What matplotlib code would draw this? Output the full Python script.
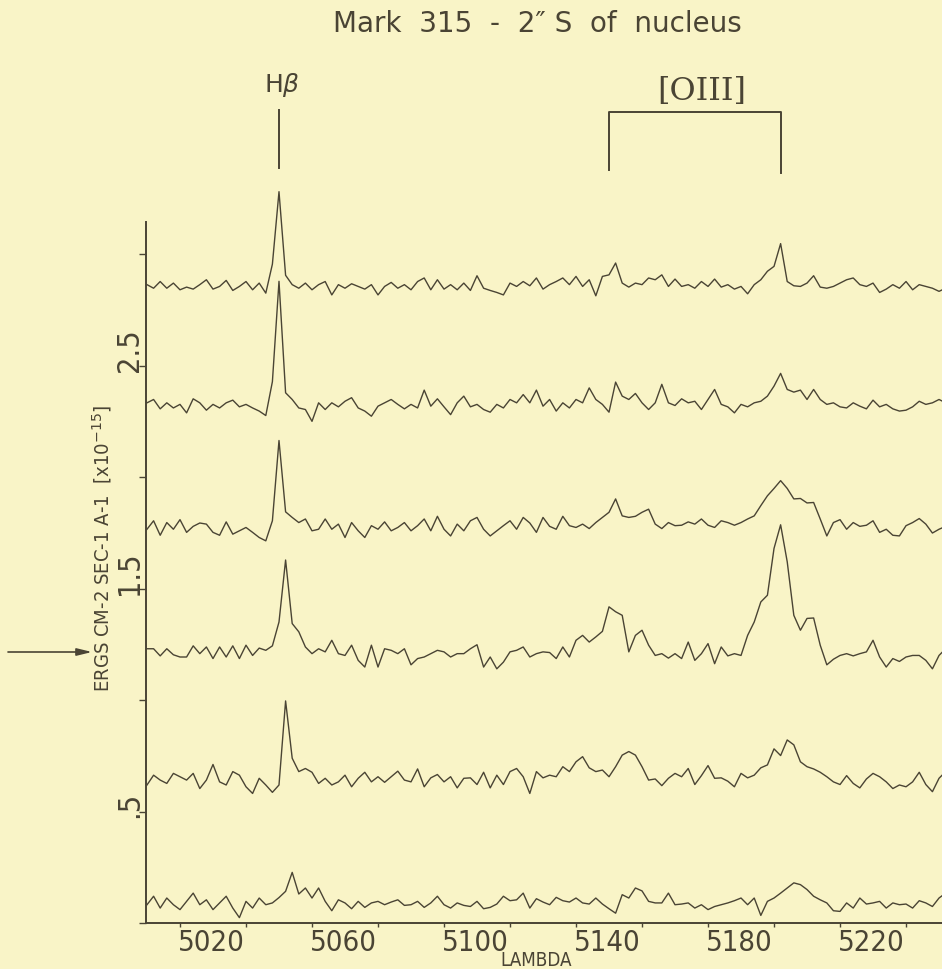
import matplotlib
matplotlib.use('Agg')
import matplotlib.pyplot as plt
import matplotlib.transforms as mtransforms
import numpy as np

# wavelength grid of the traced spectra (Angstrom)
lam = np.arange(5010, 5253, 2)

# baseline of each stacked spectrum, top to bottom (1e-15 erg cm-2 s-1 A-1)
offsets = [2.855, 2.318, 1.774, 1.208, 0.641, 0.082]

# flux above the baseline, in units of 1e-18
spec1 = [8, -8, 22, -8, 15, -15, -3, -12, 8, 30,
         -12, 0, 27, -18, 0, 22, -15, 15, -30, 100,
         425, 50, 8, -8, 15, -15, 8, 22, -38, 8,
         -8, 12, 0, -12, 8, -38, 0, 18, -8, 8,
         -15, 22, 38, -15, 30, -12, 8, -15, 15, -18,
         48, -8, -18, -27, -38, 15, 0, 22, 3, 38,
         -12, 8, 22, 38, 8, 45, 0, 30, -42, 45,
         52, 105, 15, -3, 15, 8, 38, 30, 52, 0,
         33, 0, 8, -8, 22, 0, 33, -3, 8, -12,
         0, -33, 8, 30, 68, 90, 192, 22, 3, 0,
         15, 48, -3, -8, 0, 15, 30, 38, 8, 0,
         15, -27, -12, 8, -8, 22, -15, 8, 0, -8,
         -22, -8]
spec2 = [15, 30, -12, 15, -8, 8, -30, 33, 15, -18,
         8, -8, 15, 27, -3, 8, -8, -22, -42, 110,
         560, 60, 30, -8, -15, -68, 15, -15, 15, -3,
         22, 38, -8, -22, -45, 0, 15, 30, 8, -12,
         8, -8, 72, 0, 33, -3, -38, 15, 45, -3,
         8, -15, -27, 8, -8, 30, 15, 52, 15, 72,
         0, 30, -22, 15, -8, 30, 15, 82, 30, 8,
         -27, 108, 45, 30, 57, 15, -15, 15, 98, 15,
         3, 33, 15, 22, -15, 30, 75, 8, -3, -30,
         8, -3, 15, 22, 45, 90, 147, 75, 63, 72,
         30, 75, 30, 8, 15, -3, -8, 15, 0, -12,
         27, -3, 8, -12, -22, -18, -3, 22, 8, 15,
         30, 15]
spec3 = [-8, 30, -35, 22, -8, 35, -22, 5, 20, 15,
         -22, -35, 25, -30, -15, 0, -22, -45, -60, 30,
         390, 70, 45, 22, 38, -15, -8, 38, -8, 15,
         -45, 22, -15, -45, 8, -8, 25, -15, 0, 22,
         -15, 8, 38, -15, 50, -8, -38, 15, -15, 30,
         45, -8, -38, -15, 8, 30, -8, 45, 20, -22,
         45, 5, -8, 50, 8, 0, 15, -5, 22, 45,
         68, 128, 52, 45, 50, 68, 82, 15, -5, 22,
         8, 10, 25, 15, 38, 10, 0, 30, 22, 10,
         22, 38, 52, 98, 142, 175, 210, 175, 128, 130,
         110, 112, 38, -38, 22, 35, -8, 22, 5, 10,
         30, -22, -8, -35, -38, 8, 22, 40, 15, -25,
         -8, 5]
spec4 = [22, 22, -10, 22, -5, -15, -15, 35, 0, 30,
         -22, 30, -15, 35, -22, 38, -8, 25, 15, 35,
         142, 420, 135, 98, 30, 0, 22, 8, 60, 0,
         -8, 38, -30, -60, 38, -60, 22, 15, 0, 22,
         -50, -22, -15, 0, 15, 8, -15, 0, 0, 22,
         40, -60, -15, -68, -38, 8, 15, 30, -15, 0,
         8, 5, -22, 30, -15, 60, 82, 52, 75, 100,
         210, 188, 172, 8, 82, 105, 38, -8, 0, -20,
         0, -22, 52, -30, 0, 45, -45, 30, -10, 0,
         -8, 82, 142, 232, 262, 472, 578, 412, 172, 105,
         158, 160, 38, -50, -25, -8, 0, -10, 0, 8,
         60, -15, -60, -22, -35, -15, -8, -8, -30, -68,
         -8, 22]
spec5 = [-22, 22, 0, -15, 30, 15, 0, 30, -38, 0,
         70, -8, -22, 38, 22, -30, -60, 8, -22, -55,
         -22, 355, 98, 38, 52, 35, -15, 8, -22, -8,
         22, -30, 8, 35, -8, 15, -10, 15, 40, 0,
         -8, 50, -30, 10, 25, -8, 15, -35, 8, 10,
         -20, 35, -35, 22, -20, 38, 52, 15, -60, 38,
         10, 22, 15, 60, 38, 82, 105, 55, 38, 45,
         15, 60, 112, 128, 112, 60, 0, 5, -25, 8,
         30, 15, 52, -20, 20, 65, 8, 10, -5, -30,
         30, 10, 22, 55, 68, 140, 110, 180, 158, 82,
         60, 50, 35, 15, -8, -20, 20, -15, -35, 5,
         30, 15, -8, -38, -22, -30, -8, 35, -20, -52,
         8, 38]
spec6 = [0, 38, -15, 30, 0, -22, 15, 52, 0, 22,
         -22, 8, 38, -15, -58, 15, -15, 30, 0, 8,
         32, 60, 145, 48, 75, 30, 75, 15, -27, 22,
         8, -18, 15, -12, 8, 15, 0, 12, 22, -3,
         0, 15, -12, 8, 38, 0, -15, 8, -3, -8,
         15, -18, -12, 3, 38, 18, 22, 52, -15, 27,
         12, 0, 33, 18, 12, 30, 8, 3, 30, 3,
         -18, -38, 45, 30, 75, 62, 15, 8, 8, 52,
         0, 3, 8, -15, 0, -22, -8, 0, 8, 18,
         30, 0, 30, -48, 15, 30, 52, 75, 98, 90,
         68, 38, 22, 8, -27, -30, 8, -15, 30, 3,
         8, 15, -15, 8, 0, 3, -15, 18, 8, -8,
         30, 52]
spectra = [spec1, spec2, spec3, spec4, spec5, spec6]

# line identifications (observed wavelength)
hbeta_lam = 5050
oiii_lam = [5150, 5202]

xticks = np.arange(5020, 5241, 20)
xlabels = ['5020', '', '5060', '', '5100', '', '5140', '', '5180', '', '5220', '']
yticks = [0, 0.5, 1.0, 1.5, 2.0, 2.5, 3.0]
ylabels = ['', '.5', '', '1.5', '', '2.5', '']

bg = '#f9f4c7'
ink = '#4a4434'
W, H = 942, 969

fig = plt.figure(figsize=(W / 100, H / 100), dpi=100, facecolor=bg)
ax = fig.add_axes([146 / W, 46 / H, 796 / W, 701 / H])
ax.set_facecolor(bg)

for off, s in zip(offsets, spectra):
    ax.plot(lam, off + np.array(s) / 1000.0, color=ink, lw=1.0, clip_on=False)

ax.set_xlim(5009.7, 5250.9)
ax.set_ylim(0.009, 3.144)

for side in ['top', 'right']:
    ax.spines[side].set_visible(False)
for side in ['left', 'bottom']:
    ax.spines[side].set_color(ink)
    ax.spines[side].set_linewidth(1.4)

ax.set_xticks(xticks)
ax.set_xticklabels(xlabels, color=ink, family='DejaVu Sans', stretch='condensed', size=21)
ax.set_yticks(yticks)
ax.set_yticklabels(ylabels, color=ink, rotation=90, family='DejaVu Sans',
                   stretch='condensed', size=22)
ax.tick_params(axis='x', direction='out', length=3, width=1, color=ink, pad=1)
ax.tick_params(axis='y', direction='out', length=5, width=1, color=ink, pad=0)

for lbl in ax.get_xticklabels():
    lbl.set_ha('left')
    lbl.set_transform(lbl.get_transform() + mtransforms.ScaledTranslation(-2 / 100, 0, fig.dpi_scale_trans))
for lbl in ax.get_yticklabels():
    lbl.set_va('bottom')
    lbl.set_transform(lbl.get_transform() + mtransforms.ScaledTranslation(5 / 100, -6 / 100, fig.dpi_scale_trans))


def fy(py):
    return 1 - py / H


trans = mtransforms.blended_transform_factory(ax.transData, fig.transFigure)

# H beta marker
ax.plot([hbeta_lam, hbeta_lam], [fy(110), fy(168)], color=ink, lw=1.4,
        transform=trans, clip_on=False)
ax.text(hbeta_lam + 1, fy(85), r'H$\beta$', transform=trans, ha='center', va='center',
        color=ink, fontsize=18)

# [OIII] bracket
ax.plot([oiii_lam[0], oiii_lam[0], oiii_lam[1], oiii_lam[1]],
        [fy(170), fy(112), fy(112), fy(173)], color=ink, lw=1.4,
        transform=trans, clip_on=False)
ax.text(np.mean(oiii_lam) + 2, fy(91), '[OIII]', transform=trans, ha='center', va='center',
        color=ink, fontsize=23, family='DejaVu Serif')

fig.text(537 / W, fy(24), 'Mark  315  -  2\u2033 S  of  nucleus', ha='center', va='center',
         color=ink, fontsize=20)

fig.text(102 / W, fy(692), 'ERGS CM-2 SEC-1 A-1  [x10$^{-15}$]', rotation=90,
         ha='center', va='bottom', color=ink, family='DejaVu Sans', stretch='condensed',
         fontsize=14.5)

fig.text(536 / W, fy(960), 'LAMBDA', ha='center', va='center', color=ink,
         family='DejaVu Sans', stretch='condensed', fontsize=13.5)

# arrow marking the nucleus-side spectrum
ax.annotate('', xy=(92 / W, fy(652)), xytext=(8 / W, fy(652)),
            xycoords='figure fraction', textcoords='figure fraction',
            arrowprops=dict(arrowstyle='-|>,head_length=0.9,head_width=0.22',
                            color=ink, lw=1.2, shrinkA=0, shrinkB=0))

fig.savefig('out.png', dpi=100, facecolor=bg)
